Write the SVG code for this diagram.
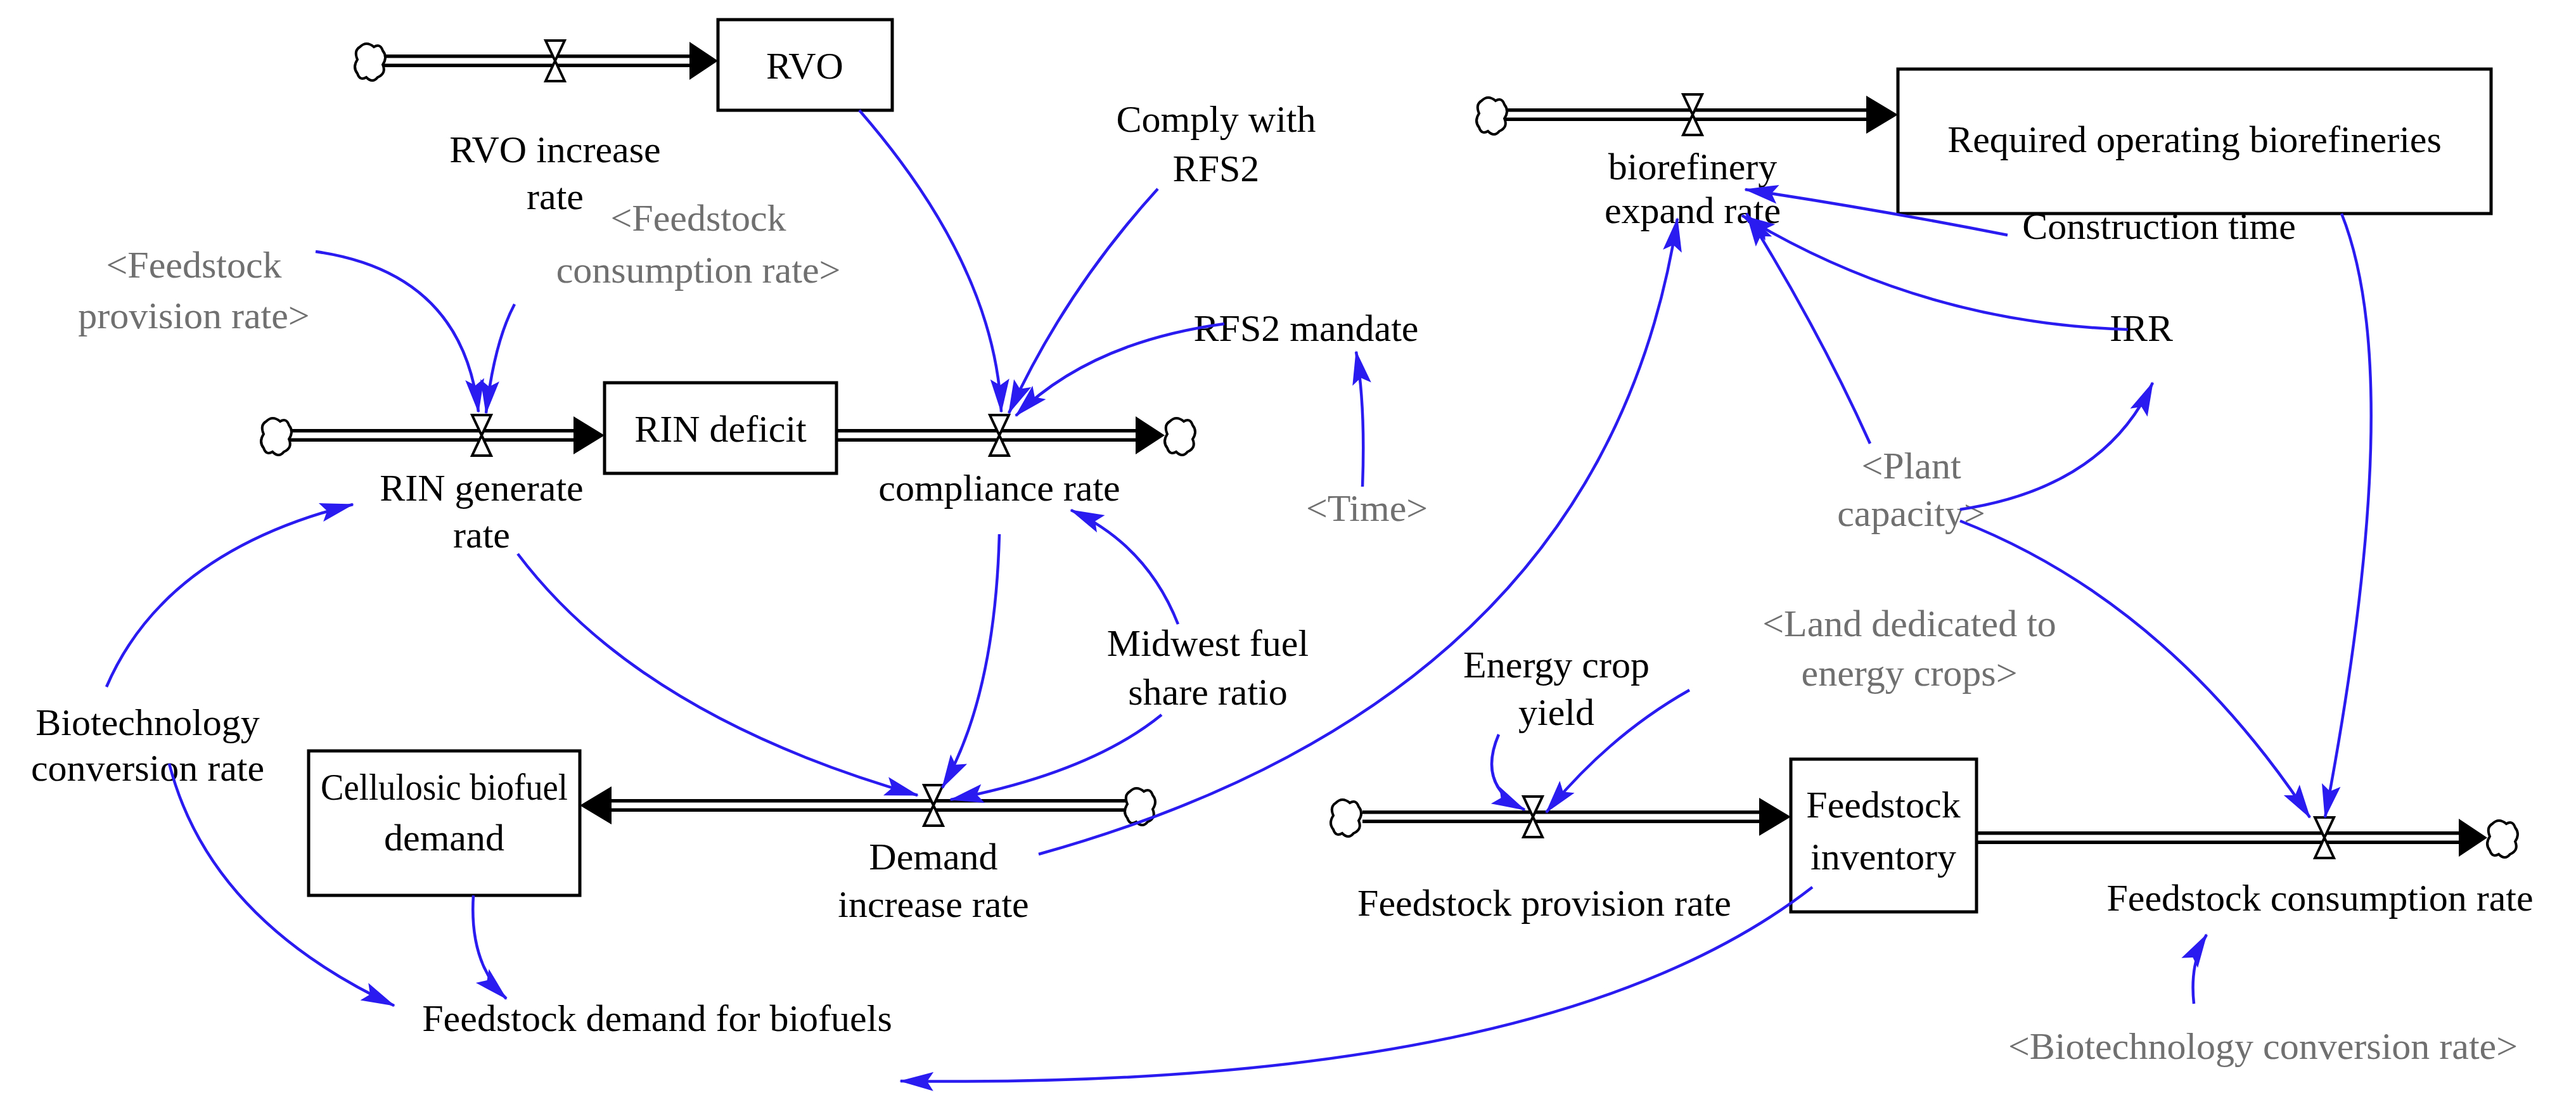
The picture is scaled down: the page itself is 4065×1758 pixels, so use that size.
<svg xmlns="http://www.w3.org/2000/svg" width="4065" height="1758" viewBox="0 0 4065 1758">
<style>
text{font-family:"Liberation Serif","Times New Roman",serif;font-size:60px;fill:#000;text-anchor:middle}
text.g{fill:#707070}
.box{fill:#fff;stroke:#000;stroke-width:5}
.po{stroke:#000;stroke-width:20;fill:none}
.pi{stroke:#fff;stroke-width:9;fill:none}
.valve{fill:#fff;stroke:#000;stroke-width:4}
.cloud{fill:#fff;stroke:#000;stroke-width:4}
.lk{fill:none;stroke:#2a1cf0;stroke-width:4.5;marker-end:url(#ba)}
</style>
<defs>
<marker id="ba" markerUnits="userSpaceOnUse" markerWidth="10" markerHeight="10" refX="0" refY="0" orient="auto" style="overflow:visible"><path d="M-52,-15 L2,0 L-52,15 L-42,0 Z" fill="#2a1cf0"/></marker>
<path id="cl" d="M-12,-22 q10,-10 22,0 q10,-6 14,6 q8,10 0,22 q6,14 -8,20 q-8,10 -18,0 q-10,6 -14,-6 q-8,-10 0,-22 q-6,-14 4,-20 z"/>
<path id="vv" d="M-15,-32 L15,-32 L-15,32 L15,32 Z"/>
</defs>
<g id="pipes">
<path class="po" d="M600,96 H1088"/><path class="pi" d="M600,96 H1088"/>
<path class="po" d="M440,687 H905"/><path class="pi" d="M440,687 H905"/>
<path class="po" d="M1320,687 H1792"/><path class="pi" d="M1320,687 H1792"/>
<path class="po" d="M1780,1271 H965"/><path class="pi" d="M1780,1271 H965"/>
<path class="po" d="M2370,181 H2945"/><path class="pi" d="M2370,181 H2945"/>
<path class="po" d="M2150,1289 H2776"/><path class="pi" d="M2150,1289 H2776"/>
<path class="po" d="M3119,1322 H3880"/><path class="pi" d="M3119,1322 H3880"/>
<g fill="#000">
<path d="M1088,66 L1133,96 L1088,126 Z"/>
<path d="M905,657 L954,687 L905,717 Z"/>
<path d="M1792,657 L1838,687 L1792,717 Z"/>
<path d="M965,1241 L915,1271 L965,1301 Z"/>
<path d="M2945,151 L2995,181 L2945,211 Z"/>
<path d="M2776,1259 L2826,1289 L2776,1319 Z"/>
<path d="M3880,1292 L3925,1322 L3880,1352 Z"/>
</g>
<use href="#cl" class="cloud" x="580" y="96"/>
<use href="#cl" class="cloud" x="432" y="687"/>
<use href="#cl" class="cloud" x="1858" y="687"/>
<use href="#cl" class="cloud" x="1795" y="1271"/>
<use href="#cl" class="cloud" x="2350" y="181"/>
<use href="#cl" class="cloud" x="2120" y="1289"/>
<use href="#cl" class="cloud" x="3945" y="1322"/>
<use href="#vv" class="valve" x="876" y="96"/>
<use href="#vv" class="valve" x="760" y="687"/>
<use href="#vv" class="valve" x="1577" y="687"/>
<use href="#vv" class="valve" x="1473" y="1271"/>
<use href="#vv" class="valve" x="2671" y="181"/>
<use href="#vv" class="valve" x="2419" y="1289"/>
<use href="#vv" class="valve" x="3668" y="1322"/>
</g>
<g id="RVO"><rect class="box" x="1133" y="31" width="275" height="143"/><text x="1270" y="124">RVO</text></g>
<g id="RINdeficit"><rect class="box" x="954" y="604" width="366" height="143"/><text x="1137" y="697">RIN deficit</text></g>
<g id="Cellulosic"><rect class="box" x="487" y="1185" width="428" height="228"/><text x="701" y="1262" textLength="390" lengthAdjust="spacingAndGlyphs">Cellulosic biofuel</text><text x="701" y="1342">demand</text></g>
<g id="ROB"><rect class="box" x="2995" y="109" width="936" height="228"/><text x="3463" y="240">Required operating biorefineries</text></g>
<g id="FI"><rect class="box" x="2826" y="1198" width="293" height="241"/><text x="2972" y="1290">Feedstock</text><text x="2972" y="1372">inventory</text></g>
<g id="labels">
<g id="rvoinc"><text x="876" y="256">RVO increase</text><text x="876" y="330">rate</text></g>
<g id="comply"><text x="1919" y="208">Comply with</text><text x="1919" y="286">RFS2</text></g>
<g id="fcr"><text class="g" x="1102" y="364">&lt;Feedstock</text><text class="g" x="1102" y="446">consumption rate&gt;</text></g>
<g id="fpr"><text class="g" x="306" y="438">&lt;Feedstock</text><text class="g" x="306" y="518">provision rate&gt;</text></g>
<g id="rfs2"><text x="2061" y="538">RFS2 mandate</text></g>
<g id="ringen"><text x="760" y="790">RIN generate</text><text x="760" y="864">rate</text></g>
<g id="comp"><text x="1577" y="790">compliance rate</text></g>
<g id="time"><text class="g" x="2157" y="822">&lt;Time&gt;</text></g>
<g id="midwest"><text x="1906" y="1035">Midwest fuel</text><text x="1906" y="1112">share ratio</text></g>
<g id="biotech"><text x="233" y="1160">Biotechnology</text><text x="233" y="1232">conversion rate</text></g>
<g id="dir"><text x="1473" y="1372">Demand</text><text x="1473" y="1447">increase rate</text></g>
<g id="fdb"><text x="1037" y="1627">Feedstock demand for biofuels</text></g>
<g id="ber"><text x="2671" y="283">biorefinery</text><text x="2671" y="352">expand rate</text></g>
<g id="ct"><text x="3407" y="377">Construction time</text></g>
<g id="irr"><text x="3379" y="538">IRR</text></g>
<g id="pc"><text class="g" x="3016" y="755">&lt;Plant</text><text class="g" x="3016" y="830">capacity&gt;</text></g>
<g id="ecy"><text x="2456" y="1069">Energy crop</text><text x="2456" y="1144">yield</text></g>
<g id="land"><text class="g" x="3013" y="1004">&lt;Land dedicated to</text><text class="g" x="3013" y="1082">energy crops&gt;</text></g>
<g id="fprov"><text x="2437" y="1445">Feedstock provision rate</text></g>
<g id="fcons"><text x="3661" y="1437">Feedstock consumption rate</text></g>
<g id="biotech2"><text class="g" x="3571" y="1671">&lt;Biotechnology conversion rate&gt;</text></g>
</g>
<g id="connectors">
<path class="lk" d="M1356,174 Q1570,420 1580,650"/>
<path class="lk" d="M1827,298 Q1680,460 1592,652"/>
<path class="lk" d="M1932,511 Q1720,540 1603,656"/>
<path class="lk" d="M498,397 Q730,430 755,650"/>
<path class="lk" d="M812,480 Q780,540 767,652"/>
<path class="lk" d="M2150,768 Q2155,640 2140,555"/>
<path class="lk" d="M168,1084 Q260,870 557,796"/>
<path class="lk" d="M817,874 Q1010,1130 1448,1255"/>
<path class="lk" d="M1577,843 Q1570,1100 1487,1243"/>
<path class="lk" d="M1859,985 Q1810,860 1690,805"/>
<path class="lk" d="M1833,1128 Q1720,1220 1500,1262"/>
<path class="lk" d="M1639,1348 Q2530,1100 2647,345"/>
<path class="lk" d="M267,1205 Q330,1450 622,1587"/>
<path class="lk" d="M747,1413 Q740,1520 799,1576"/>
<path class="lk" d="M2860,1400 Q2450,1720 1421,1706"/>
<path class="lk" d="M3168,371 Q2960,330 2754,299"/>
<path class="lk" d="M3358,520 Q3030,510 2749,340"/>
<path class="lk" d="M2951,700 Q2870,520 2756,337"/>
<path class="lk" d="M3093,804 Q3320,770 3397,604"/>
<path class="lk" d="M3093,822 Q3420,950 3645,1290"/>
<path class="lk" d="M3695,337 Q3800,600 3669,1290"/>
<path class="lk" d="M2365,1159 Q2330,1240 2406,1278"/>
<path class="lk" d="M2666,1089 Q2540,1160 2440,1282"/>
<path class="lk" d="M3462,1584 Q3455,1520 3482,1475"/>
</g>
</svg>
